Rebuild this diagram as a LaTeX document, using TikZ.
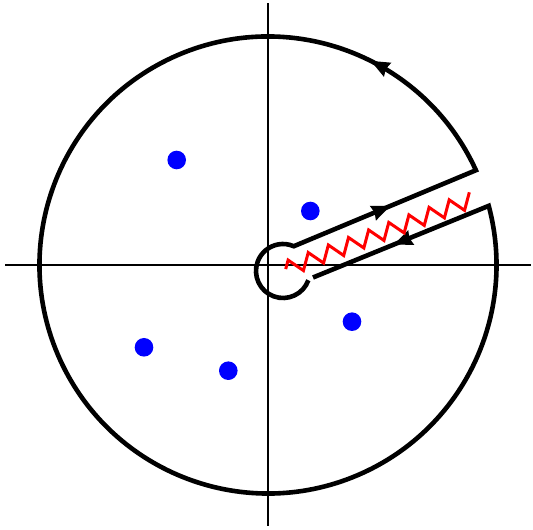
\documentclass[tikz,border=0pt]{standalone}
\usetikzlibrary{decorations.markings}
\begin{document}
\begin{tikzpicture}
% Keyhole contour around a branch cut
\def\unitsz{1pt}
\providecommand{\keyAxisColor}{black}
\providecommand{\keyPoleColor}{blue}
\providecommand{\keyCutColor}{red}
\providecommand{\keyAxisWidth}{1.2pt}
\providecommand{\keyContourWidth}{4.6pt}
\providecommand{\keyCutWidth}{3pt}
\providecommand{\keyBigRadius}{228.5}
\providecommand{\keySmallRadius}{27}
\tikzset{
  midarrow/.style={decorate, decoration={markings,
    mark=at position #1 with {\fill (4pt,0pt) -- (-15pt,8pt) -- (-13pt,0pt) -- (-15pt,-8pt) -- cycle;}}},
  pole/.style={fill=\keyPoleColor},
}
\begin{scope}[x=\unitsz, y=\unitsz, line join=miter]
  \useasboundingbox (0,0) rectangle (533,530);
  % Points of the contour
  \coordinate (O) at (268,265);
  \coordinate (B) at (283,259);
  \coordinate (P1) at ([shift={(66.5:\keySmallRadius)}]B);
  \coordinate (R1) at ([shift={(340:\keySmallRadius)}]B);
  \coordinate (Q1) at ([shift={(24.5:\keyBigRadius)}]O);
  \coordinate (Q2) at ([shift={(15:\keyBigRadius)}]O);
  \coordinate (P2) at (313,252.5);
  % Axes
  \coordinate (xl) at (5,265);
  \coordinate (xr) at (531,265);
  \coordinate (yb) at (268,4);
  \coordinate (yt) at (268,527);
  \begin{scope}[draw=\keyAxisColor, line width=\keyAxisWidth]
    \draw (xl) -- (xr);
    \draw (yb) -- (yt);
  \end{scope}
  % Contour
  \draw[line width=\keyContourWidth] (R1)
    arc[start angle=340, end angle=66.5, radius=\keySmallRadius] -- (Q1)
    arc[start angle=24.5, end angle=375, radius=\keyBigRadius] -- (P2);
  % Arrows on the contour
  \path[midarrow=0.51] (P1) -- (Q1);
  \path[midarrow=0.52] (Q2) -- (P2);
  \path[midarrow=0.50] (Q1) arc[start angle=24.5, end angle=100, radius=\keyBigRadius];
  % Branch cut
  \begin{scope}[shift={(285.7,260.9)}, rotate=20.5]
    \draw[\keyCutColor, line width=\keyCutWidth, line join=miter] (0,0)
      \foreach \k in {0,...,8} { -- ({21.5*\k+5.4},7.6) -- ({21.5*\k+16.1},-7.6) }
      -- (198.9,7.6);
  \end{scope}
  % Poles
  \fill[pole] (176.7,370) circle (9.3);
  \fill[pole] (310.3,319) circle (9.3);
  \fill[pole] (352,208.3) circle (9.3);
  \fill[pole] (144,182.7) circle (9.3);
  \fill[pole] (228.3,159.3) circle (9.3);
\end{scope}
\end{tikzpicture}
\end{document}
